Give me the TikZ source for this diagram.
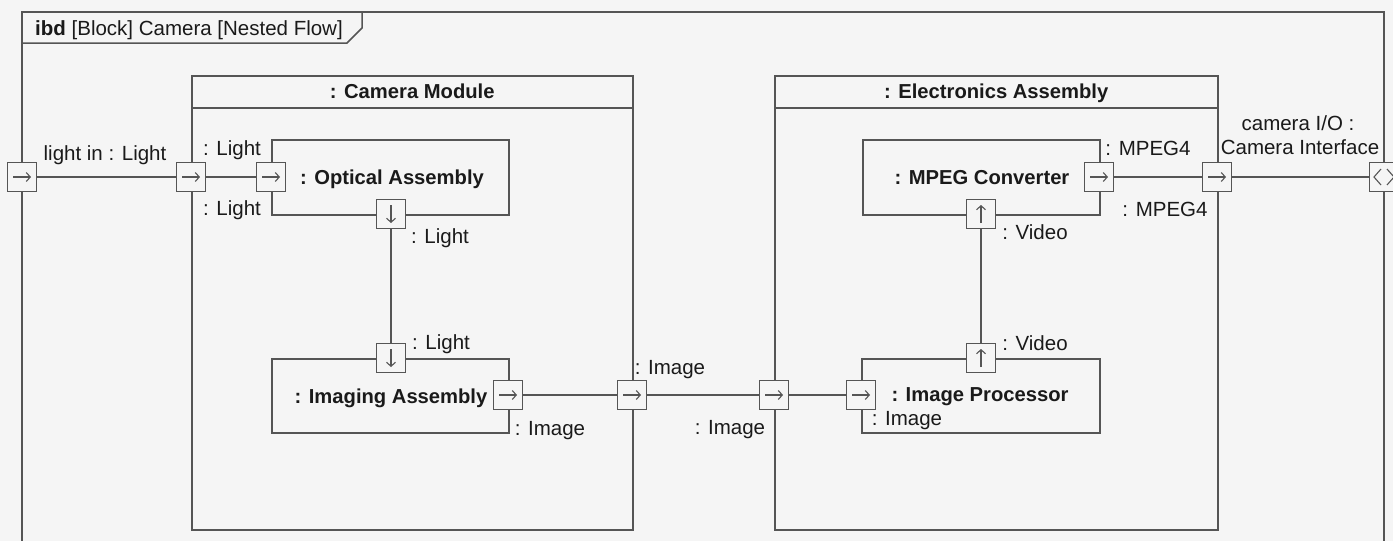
\documentclass[tikz,border=0pt]{standalone}
\usepackage{fontspec}
\setmainfont{Liberation Sans}
\usetikzlibrary{arrows.meta}
\definecolor{bg}{HTML}{F5F5F5}
\definecolor{lc}{HTML}{555555}
\definecolor{tc}{HTML}{1A1A1A}
\tikzset{
  lbl/.style={text=tc, font=\fontsize{20.5}{23}\selectfont, inner sep=0pt, text height=14.5pt, text depth=0pt},
  blocktitle/.style={text=tc, font=\fontsize{20.2}{23}\selectfont\bfseries, inner sep=0pt, text height=14.5pt, text depth=0pt},
  block/.style={draw=lc, line width=1.5pt, inner sep=0pt, anchor=north west},
  part/.style={draw=lc, line width=1.5pt, inner sep=0pt, anchor=north west, text=tc, font=\fontsize{20.2}{23}\selectfont\bfseries},
  wire/.style={draw=lc, line width=1.4pt},
  port/.style={draw=lc, fill=bg, line width=1.4pt, minimum size=29pt, inner sep=0pt, outer sep=0pt},
  parrow/.style={line width=1.1pt, draw=lc, -{Straight Barb[length=4pt,width=9pt]}},
  portR/.style={port, path picture={\draw[parrow] ([xshift=-9pt]path picture bounding box.center) -- ([xshift=9pt]path picture bounding box.center);}},
  portD/.style={port, path picture={\draw[parrow] ([yshift=9pt]path picture bounding box.center) -- ([yshift=-9pt]path picture bounding box.center);}},
  portU/.style={port, path picture={\draw[parrow] ([yshift=-9pt]path picture bounding box.center) -- ([yshift=9pt]path picture bounding box.center);}},
  portIO/.style={port, path picture={
     \draw[line width=1.1pt, draw=lc] ([shift={(-3pt,8pt)}]path picture bounding box.center) -- ([xshift=-10pt]path picture bounding box.center) -- ([shift={(-3pt,-8pt)}]path picture bounding box.center);
     \draw[line width=1.1pt, draw=lc] ([shift={(3pt,8pt)}]path picture bounding box.center) -- ([xshift=10pt]path picture bounding box.center) -- ([shift={(3pt,-8pt)}]path picture bounding box.center);}},
}
\begin{document}
\begin{tikzpicture}[x=1pt, y=-1pt]
\useasboundingbox (0,0) rectangle (1393,541);
\fill[bg] (0,0) rectangle (1393,541);
% frame
\draw[draw=lc, line width=1.5pt] (22,580) -- (22,12) -- (1384,12) -- (1384,580);
\draw[draw=lc, line width=1.5pt] (22,43) -- (347,43) -- (362,28) -- (362,12);
\node[lbl, anchor=west] (title) at (35,28) {\textbf{ibd} [Block] Camera [Nested Flow]};

% blocks
\node[block, minimum width=441pt, minimum height=454pt] (cm) at (191,75) {};
\draw[draw=lc, line width=1.5pt] ([yshift=-33pt]cm.north west) -- ([yshift=-33pt]cm.north east);
\node[blocktitle] (cmt) at ([yshift=-16.5pt]cm.north) {: Camera Module};

\node[block, minimum width=443pt, minimum height=454pt] (ea) at (774,75) {};
\draw[draw=lc, line width=1.5pt] ([yshift=-33pt]ea.north west) -- ([yshift=-33pt]ea.north east);
\node[blocktitle] (eat) at ([yshift=-16.5pt]ea.north) {: Electronics Assembly};

% parts
\node[part, minimum width=237pt, minimum height=75pt] (oa) at (271,139) {};
\node[part, minimum width=237pt, minimum height=74pt] (ia) at (271,358) {};
\node[part, minimum width=238pt, minimum height=74pt] (ip) at (861,358) {};
\node[part, minimum width=237pt, minimum height=75pt] (mc) at (862,139) {};
\node[blocktitle] (oat) at (392,177) {: Optical Assembly};
\node[blocktitle] (iat) at (391,396) {: Imaging Assembly};
\node[blocktitle] (ipt) at (980,394) {: Image Processor};
\node[blocktitle] (mct) at (982,177) {: MPEG Converter};

% ports
\node[portR] (pFL) at (22,177) {};
\node[portR] (pCL) at (191,177) {};
\node[portR] (pOL) at (271,177) {};
\node[portD] (pOB) at (391,214) {};
\node[portD] (pIT) at (391,358) {};
\node[portR] (pIR) at (508,395) {};
\node[portR] (pCR) at (632,395) {};
\node[portR] (pEL) at (774,395) {};
\node[portR] (pPL) at (861,395) {};
\node[portU] (pPT) at (981,358) {};
\node[portU] (pMB) at (981,214) {};
\node[portR] (pMR) at (1099,177) {};
\node[portR] (pER) at (1217,177) {};
\node[portIO] (pFR) at (1384,177) {};

% connectors
\draw[wire] (pFL.east) -- (pCL.west);
\draw[wire] (pCL.east) -- (pOL.west);
\draw[wire] (pOB.south) -- (pIT.north);
\draw[wire] (pIR.east) -- (pCR.west);
\draw[wire] (pCR.east) -- (pEL.west);
\draw[wire] (pEL.east) -- (pPL.west);
\draw[wire] (pPT.north) -- (pMB.south);
\draw[wire] (pMR.east) -- (pER.west);
\draw[wire] (pER.east) -- (pFR.west);

% labels
\node[lbl] (l1) at (105,153) {light in : Light};
\node[lbl] (l2) at (232,148) {: Light};
\node[lbl] (l3) at (232,208) {: Light};
\node[lbl] (l4) at (440,236) {: Light};
\node[lbl] (l5) at (441,342) {: Light};
\node[lbl] (l6) at (550,428) {: Image};
\node[lbl] (l7) at (670,367) {: Image};
\node[lbl] (l8) at (730,427) {: Image};
\node[lbl] (l9) at (907,418) {: Image};
\node[lbl] (l10) at (1035,343) {: Video};
\node[lbl] (l11) at (1035,232) {: Video};
\node[lbl] (l12) at (1148,148) {: MPEG4};
\node[lbl] (l13) at (1165,209) {: MPEG4};
\node[lbl] (l14) at (1298,123) {camera I/O :};
\node[lbl] (l15) at (1300,147) {Camera Interface};
\end{tikzpicture}
\end{document}
